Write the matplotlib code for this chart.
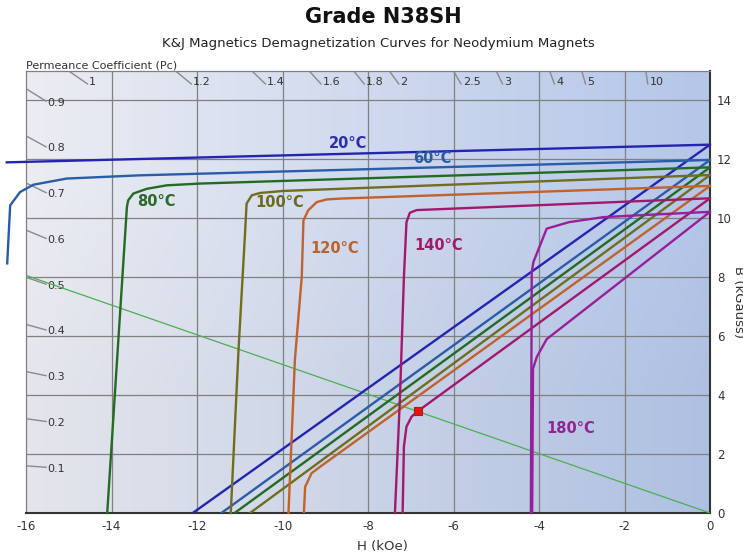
import numpy as np
import matplotlib
matplotlib.use("Agg")
from matplotlib import pyplot as plt

plt.rcParams["axes.unicode_minus"] = False

# demagnetization curves, H in kOe and B in kGauss
# j = intrinsic curve, b = normal curve
j20_h = [-16.45, 0]
j20_b = [11.9, 12.5]
b20_h = [-12.1, 0]
b20_b = [0, 12.5]

j60_h = [-16.44, -16.37, -16.14, -15.83, -15.05, -13.33, 0]
j60_b = [8.47, 10.44, 10.89, 11.14, 11.35, 11.46, 11.98]
b60_h = [-11.43, 0]
b60_b = [0, 11.98]

j80_h = [-14.10, -13.64, -13.61, -13.49, -13.18, -12.71, -11.93, 0]
j80_b = [0, 10.38, 10.61, 10.84, 11.0, 11.12, 11.18, 11.73]
b80_h = [-11.12, 0]
b80_b = [0, 11.73]

j100_h = [-11.21, -11.03, -10.88, -10.84, -10.72, -10.53, -9.98, 0]
j100_b = [0, 5.5, 9.4, 10.5, 10.78, 10.86, 10.93, 11.47]
b100_h = [-10.76, 0]
b100_b = [0, 11.47]

j120_h = [-9.86, -9.71, -9.55, -9.51, -9.40, -9.20, -8.97, -8.65, 0]
j120_b = [0, 5.2, 8.0, 9.93, 10.27, 10.55, 10.64, 10.67, 11.1]
b120_h = [-9.50, -9.47, -9.32, -9.12, 0]
b120_b = [0, 0.89, 1.35, 1.57, 11.1]

j140_h = [-7.37, -7.25, -7.16, -7.10, -7.02, -6.86, 0]
j140_b = [0, 4.0, 8.0, 9.87, 10.19, 10.28, 10.68]
b140_h = [-7.19, -7.16, -7.10, -6.98, -6.84, 0]
b140_b = [0, 2.25, 2.93, 3.27, 3.45, 10.68]

j180_h = [-4.19, -4.17, -4.13, -3.82, -3.3, -2.5, -1.72, 0]
j180_b = [0, 8.18, 8.52, 9.65, 9.87, 10.04, 10.1, 10.22]
b180_h = [-4.16, -4.14, -4.05, -3.82, 0]
b180_b = [0, 4.9, 5.3, 5.9, 10.22]

# load line for the chosen permeance coefficient and its operating point
load_pc = 0.504
op_h, op_b = -6.84, 3.45

temps = ["20°C", "60°C", "80°C", "100°C", "120°C", "140°C", "180°C"]
label_h = [-8.47, -6.5, -12.94, -10.06, -8.78, -6.34, -3.27]
label_b = [12.54, 12.03, 10.58, 10.54, 8.98, 9.08, 2.88]

left_pc = [0.1, 0.2, 0.3, 0.4, 0.5, 0.6, 0.7, 0.8, 0.9]
top_pc = [1, 1.2, 1.4, 1.6, 1.8, 2, 2.5, 3, 4, 5, 10]

curves = [
    (j20_h, j20_b, b20_h, b20_b, "#2424b2", "#2d2db0"),
    (j60_h, j60_b, b60_h, b60_b, "#2a5ca8", "#2a5ca0"),
    (j80_h, j80_b, b80_h, b80_b, "#236b23", "#2a6a2a"),
    (j100_h, j100_b, b100_h, b100_b, "#6e6e1e", "#6a6a20"),
    (j120_h, j120_b, b120_h, b120_b, "#c0622a", "#b8622e"),
    (j140_h, j140_b, b140_h, b140_b, "#a3186e", "#a01a6a"),
    (j180_h, j180_b, b180_h, b180_b, "#96209a", "#8e2496"),
]

HMIN, HMAX, BMIN, BMAX = -16, 0, 0, 15

fig = plt.figure(figsize=(7.43, 5.54), dpi=100)
ax = fig.add_axes([26 / 743, 41 / 554, 684 / 743, 442 / 554])

# background shading, light grey on the left to blue on the right
left_rgb = np.array([236, 237, 243]) / 255
right_rgb = np.array([180, 198, 233]) / 255
t = np.linspace(0, 1, 256)
row = left_rgb[None, :] * (1 - t[:, None]) + right_rgb[None, :] * t[:, None]
shade = np.stack([row * 1.0, row * 0.97])
shade = np.clip(shade, 0, 1)
ax.imshow(shade, extent=[HMIN, HMAX, BMIN, BMAX], aspect="auto",
          origin="upper", zorder=0, interpolation="bilinear")

ax.set_xlim(HMIN, HMAX)
ax.set_ylim(BMIN, BMAX)

# grid
for h in range(-14, 0, 2):
    ax.plot([h, h], [BMIN, BMAX], color="#808080", lw=0.9, zorder=1)
for b in range(2, 15, 2):
    ax.plot([HMIN, HMAX], [b, b], color="#808080", lw=0.9, zorder=1)

# permeance coefficient marks along the left edge
for pc in left_pc:
    h0, b0 = HMIN, -pc * HMIN
    h1 = h0 + 0.47
    b1 = -pc * h1
    ax.plot([h0, h1], [b0, b1], color="#8a8a8a", lw=1.0, zorder=2)
    ax.text(h1 + 0.02, b1 - 0.05, "%.1f" % pc, fontsize=8, color="#333333",
            ha="left", va="center", zorder=3)

# permeance coefficient marks along the top edge
for pc in top_pc:
    b0 = BMAX
    h0 = -b0 / pc
    b1 = b0 - 0.44
    h1 = -b1 / pc
    ax.plot([h0, h1], [b0, b1], color="#8a8a8a", lw=1.0, zorder=2)
    ax.text(h1 + 0.04, b1 + 0.05, "%g" % pc, fontsize=8, color="#333333",
            ha="left", va="center", zorder=3)

# load line
ax.plot([HMIN, 0], [-load_pc * HMIN, 0], color="#4caf50", lw=0.9, zorder=4)

for jh, jb, bh, bb, col, lcol in curves:
    ax.plot(jh, jb, color=col, lw=1.7, zorder=5, clip_on=False,
            solid_joinstyle="round")
    ax.plot(bh, bb, color=col, lw=1.7, zorder=5, solid_joinstyle="round")

for name, h, b, (_, _, _, _, _, lcol) in zip(temps, label_h, label_b, curves):
    ax.text(h, b, name, fontsize=10.5, fontweight="bold", color=lcol,
            ha="center", va="center", zorder=6)

ax.plot(op_h, op_b, marker="s", ms=6, mfc="#ee1111", mec="#992222",
        mew=0.8, zorder=7)

# axes styling
for side in ["left", "top"]:
    ax.spines[side].set_color("#808080")
    ax.spines[side].set_linewidth(0.9)
for side in ["bottom", "right"]:
    ax.spines[side].set_color("#333333")
    ax.spines[side].set_linewidth(1.5)

ax.yaxis.tick_right()
ax.set_xticks(range(-16, 1, 2))
ax.set_yticks(range(0, 15, 2))
ax.tick_params(axis="both", length=0, labelsize=8.5, labelcolor="#333333")
ax.tick_params(axis="x", pad=5)
ax.tick_params(axis="y", pad=5)

ax.set_xlabel("H (kOe)", fontsize=9.5, color="#333333")
ax.xaxis.set_label_coords((382 - 26) / 684, -0.06)

fig.text(738 / 743, 1 - 302 / 554, "B (kGauss)", rotation=270, fontsize=9.5,
         color="#333333", ha="center", va="center")

fig.text(383 / 743, 1 - 17 / 554, "Grade N38SH", fontsize=15,
         fontweight="bold", ha="center", va="center", color="#111111")
fig.text(378 / 743, 1 - 43 / 554,
         "K&J Magnetics Demagnetization Curves for Neodymium Magnets",
         fontsize=9.5, ha="center", va="center", color="#222222")
fig.text(26 / 743, 1 - 66 / 554, "Permeance Coefficient (Pc)", fontsize=8,
         ha="left", va="center", color="#333333")

fig.savefig("out.png", dpi=100)
